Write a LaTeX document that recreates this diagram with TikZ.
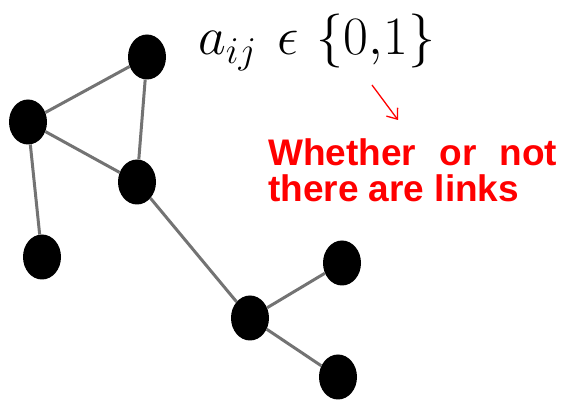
\RequirePackage{fix-cm}
\documentclass[tikz,border=0pt]{standalone}
\usepackage{fontspec}
\setsansfont{Liberation Sans}
\usetikzlibrary{arrows.meta,shapes.geometric}
\begin{document}
\begin{tikzpicture}[x=1pt,y=-1pt,
  vert/.style={ellipse,fill=black,inner sep=0pt,minimum width=38pt,minimum height=45pt},
  edge/.style={draw=black!55,line width=3pt},
  redtxt/.style={text=red,font=\sffamily\bfseries\fontsize{37}{38}\selectfont,inner sep=0pt,anchor=base west}]
\useasboundingbox (0,0) rectangle (566,403);
\node[vert] (top) at (147,57) {};
\node[vert] (left) at (28,122) {};
\node[vert] (mid) at (137,182) {};
\node[vert] (bl) at (42,257) {};
\node[vert] (cen) at (250,318) {};
\node[vert] (tr) at (342,263) {};
\node[vert] (br) at (338,377) {};
\draw[edge] (top) -- (left);
\draw[edge] (top) -- (mid);
\draw[edge] (left) -- (mid);
\draw[edge] (left) -- (bl);
\draw[edge] (mid) -- (cen);
\draw[edge] (cen) -- (tr);
\draw[edge] (cen) -- (br);
\node[inner sep=0pt,anchor=base west,font=\fontsize{54}{54}\selectfont] (eq) at (198,55) {$a_{ij}\mskip7mu\epsilon\mskip6mu\{0{,}1\}$};
\node[redtxt] (l1) at (268,166) {\makebox[289pt][s]{Whether or not}};
\node[redtxt] (l2) at (268,202) {there are links};
\coordinate (as) at (372,85);
\coordinate (ae) at (398,120);
\draw[red,line width=1.3pt,-{Straight Barb[length=9pt,width=14pt]}] (as) -- (ae);
\end{tikzpicture}
\end{document}
